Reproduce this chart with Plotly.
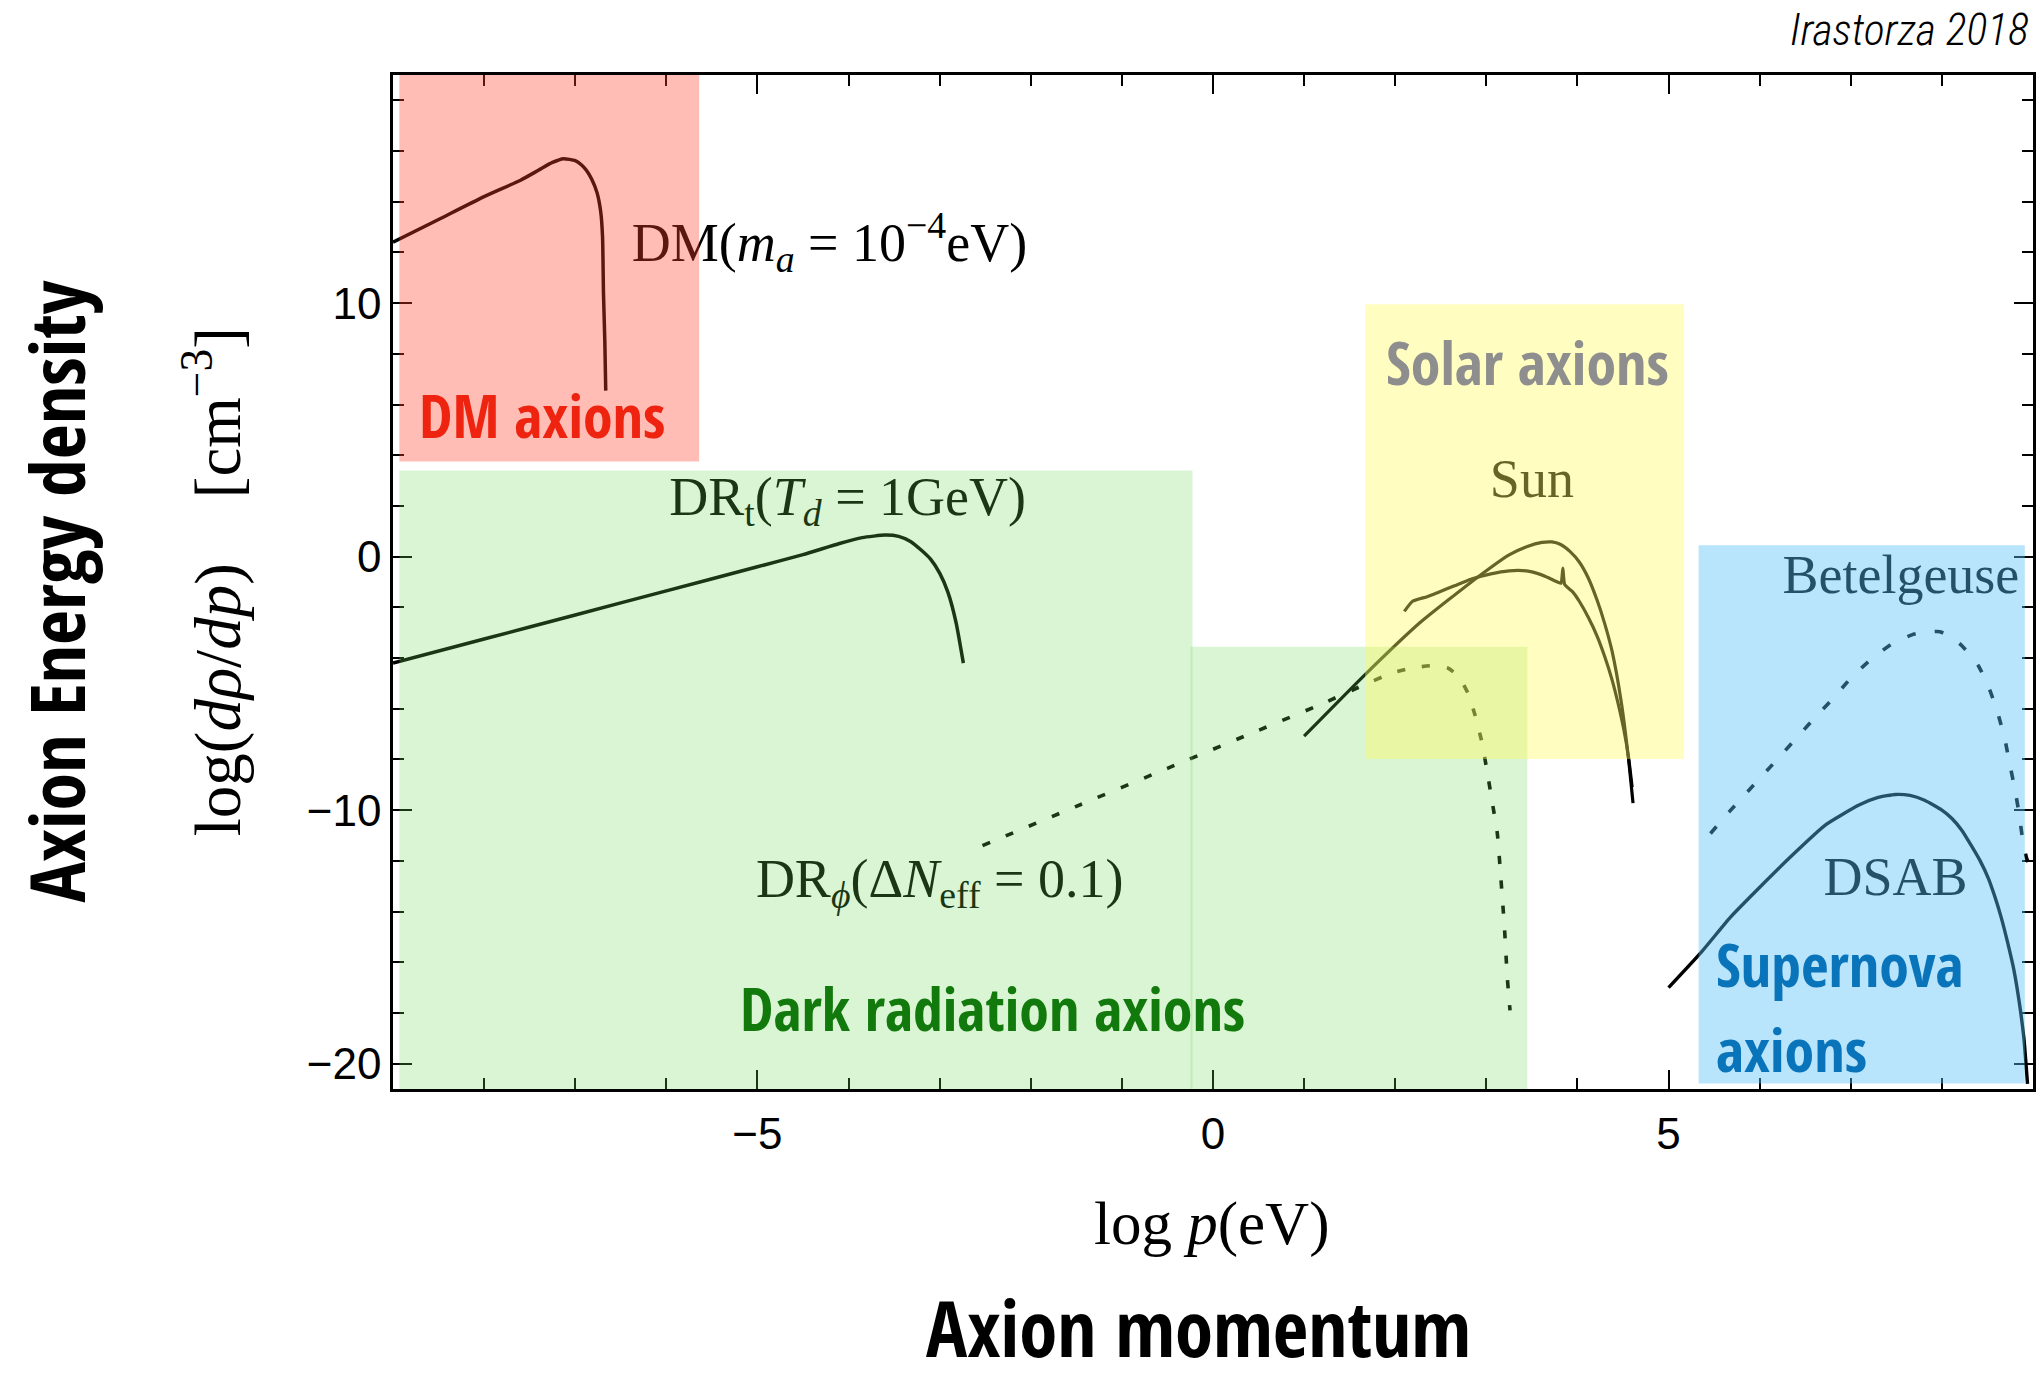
import plotly.graph_objects as go

# ---------------- data ----------------
dm_x = [-9.0, -8.5, -8.0, -7.6, -7.4, -7.25, -7.13, -7.0, -6.93, -6.88, -6.82, -6.76, -6.72, -6.70, -6.69, -6.675, -6.665]
dm_y = [12.4, 13.3, 14.2, 14.85, 15.25, 15.55, 15.7, 15.62, 15.45, 15.25, 14.9, 14.35, 13.6, 12.6, 10.4, 8.5, 6.55]

drt_x = [-9.0, -8.0, -7.0, -6.0, -5.0, -4.5, -4.1, -3.85, -3.6, -3.45, -3.32, -3.2, -3.1, -3.0, -2.91, -2.82, -2.74]
drt_y = [-4.2, -3.25, -2.3, -1.35, -0.4, 0.08, 0.52, 0.75, 0.85, 0.8, 0.6, 0.25, -0.1, -0.65, -1.4, -2.6, -4.2]

drphi_x = [-2.53, -1.5, -0.5, 0.5, 1.2, 1.65, 1.96, 2.2, 2.42, 2.58, 2.7, 2.8, 2.88, 2.95, 3.01, 3.07, 3.12, 3.16, 3.20, 3.23, 3.26]
drphi_y = [-11.4, -9.85, -8.35, -6.85, -5.8, -5.07, -4.6, -4.38, -4.3, -4.4, -4.75, -5.4, -6.3, -7.3, -8.5, -9.8, -10.9, -12.7, -14.7, -16.6, -17.9]

sun1_x = [1.0, 1.65, 2.27, 2.89, 3.25, 3.45, 3.61, 3.72, 3.81, 3.92, 4.02, 4.12, 4.22, 4.30, 4.38, 4.48, 4.56, 4.61]
sun1_y = [-7.08, -4.72, -2.61, -0.85, 0.07, 0.4, 0.56, 0.58, 0.49, 0.2, -0.21, -0.85, -1.76, -2.65, -3.73, -5.71, -7.96, -9.72]

sun2_x = [2.10, 2.19, 2.35, 2.47, 2.65, 2.83, 3.05, 3.25, 3.40, 3.50, 3.65, 3.78, 3.82, 3.84, 3.86, 3.95, 4.02, 4.12, 4.22, 4.30, 4.38, 4.45, 4.51, 4.56, 4.60]
sun2_y = [-2.16, -1.76, -1.58, -1.41, -1.15, -0.89, -0.68, -0.56, -0.55, -0.6, -0.78, -1.0, -1.05, -0.45, -1.1, -1.4, -1.76, -2.4, -3.17, -3.95, -4.86, -5.85, -6.84, -7.9, -9.09]

betel_x = [5.46, 5.665, 5.865, 6.05, 6.25, 6.43, 6.63, 6.82, 7.01, 7.23, 7.45, 7.70, 7.98, 8.21, 8.40, 8.52, 8.61, 8.69, 8.74, 8.80, 8.85, 8.89, 8.93, 8.96]
betel_y = [-10.92, -10.07, -9.28, -8.56, -7.77, -7.05, -6.26, -5.54, -4.75, -4.03, -3.44, -3.05, -2.96, -3.48, -4.30, -5.21, -6.13, -7.18, -8.10, -9.15, -10.2, -11.25, -11.9, -12.15]

dsab_x = [5.0, 5.36, 5.68, 5.99, 6.36, 6.72, 7.09, 7.30, 7.49, 7.65, 7.81, 8.0, 8.11, 8.22, 8.32, 8.42, 8.51, 8.58, 8.65, 8.72, 8.79, 8.85, 8.90, 8.94]
dsab_y = [-17.0, -15.6, -14.22, -13.08, -11.77, -10.59, -9.80, -9.50, -9.38, -9.42, -9.61, -10.0, -10.33, -10.8, -11.38, -12.0, -12.69, -13.4, -14.22, -15.2, -16.3, -17.6, -19.0, -20.8]

# shaded regions: x0, x1, y0, y1
region_names = ["DM", "DR_t", "DR_phi", "Solar", "Supernova"]
region_x0 = [-8.93, -8.93, -0.245, 1.67, 5.33]
region_x1 = [-5.64, -0.225, 3.45, 5.17, 8.91]
region_y0 = [3.75, -21.0, -21.0, -7.98, -20.78]
region_y1 = [19.0, 3.4, -3.55, 9.96, 0.45]
region_rgb = [(255, 66, 44), (107, 215, 79), (107, 215, 79), (255, 250, 97), (86, 190, 248)]
region_alpha = [0.35, 0.25, 0.25, 0.40, 0.42]

# curve labels (math-like)
curve_label_text = [
    "DM(<i>m<sub>a</sub></i> = 10<sup>−4</sup>eV)",
    "DR<sub>t</sub>(<i>T<sub>d</sub></i> = 1GeV)",
    "DR<sub><i>ϕ</i></sub>(Δ<i>N</i><sub>eff</sub> = 0.1)",
    "Sun",
    "Betelgeuse",
    "DSAB",
]
curve_label_x = [-4.21, -4.01, -3.0, 3.50, 7.55, 7.49]
curve_label_y = [12.2, 2.18, -12.89, 2.89, -0.885, -12.82]

# category labels
cat_text = ["DM axions", "Solar axions", "Dark radiation axions", "Supernova", "axions"]
cat_x = [-7.36, 3.45, -2.42, 5.50, 5.50]
cat_y = [5.57, 7.67, -17.81, -16.07, -19.41]
cat_color = ["#EE2410", "#8E8E8E", "#127A0C", "#0A74BB", "#0A74BB"]
cat_anchor = ["center", "center", "center", "left", "left"]

x_range = [-9, 9]
y_range = [-21, 19]
x_ticks = [-5, 0, 5]
y_ticks = [-20, -10, 0, 10]

# ---------------- figure ----------------
W, H = 2039, 1380
L, R, T, B = 393, 3, 75, 291
pw, ph = W - L - R, H - T - B

def px2paper(px, py):
    return (px - L) / pw, (H - B - py) / ph

fig = go.Figure()

def add_curve(x, y, dash=None, width=3.5):
    fig.add_trace(go.Scatter(x=x, y=y, mode="lines",
                             line=dict(color="black", width=width, dash=dash, shape="spline", smoothing=0.5),
                             hoverinfo="skip", showlegend=False))

add_curve(dm_x, dm_y)
add_curve(drt_x, drt_y)
add_curve(drphi_x, drphi_y, dash="8px,17px", width=3.6)
add_curve(sun1_x, sun1_y, width=3.2)
add_curve(sun2_x, sun2_y, width=3.2)
add_curve(betel_x, betel_y, dash="9px,19px", width=3.6)
add_curve(dsab_x, dsab_y, width=3.4)

SERIF = "Liberation Serif, Times New Roman, DejaVu Serif, serif"
COND = "Open Sans Condensed, Roboto Condensed, DejaVu Sans Condensed, sans-serif"
LIGHTCOND = "Roboto Condensed, Open Sans Condensed, DejaVu Sans Condensed, sans-serif"
SANS = "Liberation Sans, Arial, Helvetica, sans-serif"

fig.add_trace(go.Scatter(x=curve_label_x, y=curve_label_y, mode="text",
                         text=curve_label_text, textposition="middle center",
                         textfont=dict(family=SERIF, size=54, color="black"),
                         hoverinfo="skip", showlegend=False, cliponaxis=False))

shapes = []
for i in range(len(region_names)):
    r, g, b = region_rgb[i]
    shapes.append(dict(type="rect", xref="x", yref="y", layer="above",
                       x0=region_x0[i], x1=region_x1[i], y0=region_y0[i], y1=region_y1[i],
                       fillcolor=f"rgba({r},{g},{b},{region_alpha[i]})", line=dict(width=0)))

annotations = []
for i in range(len(cat_text)):
    annotations.append(dict(x=cat_x[i], y=cat_y[i], xref="x", yref="y", text=cat_text[i],
                            showarrow=False, xanchor=cat_anchor[i], yanchor="middle",
                            font=dict(family=COND, size=60, color=cat_color[i], weight="bold")))

# axis titles
ax_, ay_ = px2paper(1213, 1224)
annotations.append(dict(x=ax_, y=ay_, xref="paper", yref="paper", showarrow=False,
                        xanchor="center", yanchor="middle",
                        text="log <i>p</i>(eV)", font=dict(family=SERIF, size=61, color="black")))
ax_, ay_ = px2paper(212, 582)
annotations.append(dict(x=ax_, y=ay_, xref="paper", yref="paper", showarrow=False, textangle=-90,
                        xanchor="center", yanchor="middle",
                        text="log(<i>dρ</i>/<i>dp</i>)\u00a0\u00a0\u00a0\u00a0[cm<sup>−3</sup>]",
                        font=dict(family=SERIF, size=65, color="black")))
ax_, ay_ = px2paper(1200, 1327)
annotations.append(dict(x=ax_, y=ay_, xref="paper", yref="paper", showarrow=False,
                        xanchor="center", yanchor="middle",
                        text="Axion momentum", font=dict(family=COND, size=77, color="black", weight="bold")))
ax_, ay_ = px2paper(54, 592)
annotations.append(dict(x=ax_, y=ay_, xref="paper", yref="paper", showarrow=False, textangle=-90,
                        xanchor="center", yanchor="middle",
                        text="Axion Energy density", font=dict(family=COND, size=76, color="black", weight="bold")))
ax_, ay_ = px2paper(2034, 30)
annotations.append(dict(x=ax_, y=ay_, xref="paper", yref="paper", showarrow=False,
                        xanchor="right", yanchor="middle",
                        text="Irastorza 2018", font=dict(family=LIGHTCOND, size=44, color="black", style="italic", weight=300)))

axis_common = dict(showline=True, linecolor="black", linewidth=2.6, mirror="allticks",
                   ticks="inside", ticklen=19, tickwidth=2.2, tickcolor="black",
                   showgrid=False, zeroline=False,
                   tickfont=dict(family=SANS, size=44, color="black"))

fig.update_layout(
    width=W, height=H,
    margin=dict(l=L, r=R, t=T, b=B, pad=0),
    paper_bgcolor="white", plot_bgcolor="white",
    showlegend=False,
    shapes=shapes, annotations=annotations,
    xaxis=dict(range=x_range, tickvals=x_ticks, ticklabelstandoff=4,
               minor=dict(ticks="inside", ticklen=11, tickwidth=2, tickcolor="black", dtick=1, tick0=0),
               **axis_common),
    yaxis=dict(range=y_range, tickvals=y_ticks,
               minor=dict(ticks="inside", ticklen=11, tickwidth=2, tickcolor="black", dtick=2, tick0=0),
               **axis_common),
)

fig.write_html("out.html")
